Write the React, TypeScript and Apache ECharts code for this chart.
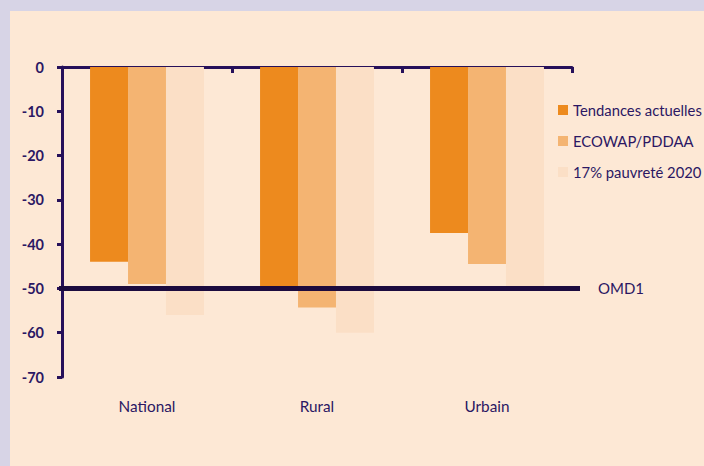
import React, { useEffect, useRef } from "react";
import * as echarts from "echarts";

const categories = ["National", "Rural", "Urbain"];
const seriesNames = ["Tendances actuelles", "ECOWAP/PDDAA", "17% pauvreté 2020"];
const tendances = [-44, -49.6, -37.5];
const ecowap = [-49, -54.3, -44.5];
const pauvrete = [-56, -60, -50.5];
const omdValue = -50;
const omdLabel = "OMD1";
const yMin = -70;
const yMax = 0;
const yInterval = 10;

const barColors = ["#ED8A1E", "#F4B472", "#FBDFC6"];
const axisColor = "#26105A";
const textColor = "#2B1763";
const font = "Lato, 'DejaVu Sans', sans-serif";

export default function App() {
  const ref = useRef<HTMLDivElement>(null);
  useEffect(() => {
    if (!ref.current) return;
    const chart = echarts.init(ref.current, undefined, { renderer: "svg" });
    const values = [tendances, ecowap, pauvrete];
    const bars = values.map((v, i) => ({
      name: seriesNames[i],
      type: "bar",
      xAxisIndex: 0,
      yAxisIndex: 0,
      data: v,
      barGap: "0%",
      barCategoryGap: "33%",
      itemStyle: { color: barColors[i] },
      silent: true,
    }));
    chart.setOption({
      animation: false,
      backgroundColor: "transparent",
      textStyle: { fontFamily: font },
      grid: { left: 62, top: 67, right: 132, bottom: 89, containLabel: false },
      legend: {
        data: seriesNames,
        orient: "vertical",
        left: 553,
        top: 97,
        itemWidth: 10,
        itemHeight: 10,
        itemGap: 15,
        icon: "rect",
        textStyle: { color: textColor, fontSize: 14.8, fontFamily: font, lineHeight: 16 },
        selectedMode: false,
      },
      xAxis: [
        {
          type: "category",
          data: categories,
          position: "top",
          axisLine: { show: true, onZero: false, lineStyle: { color: axisColor, width: 3 } },
          axisTick: { show: true, inside: true, length: 6, lineStyle: { color: axisColor, width: 3 } },
          axisLabel: { show: false },
          splitLine: { show: false },
        },
        {
          type: "category",
          data: categories,
          position: "bottom",
          axisLine: { show: false },
          axisTick: { show: false },
          axisLabel: { show: true, margin: 21, color: textColor, fontSize: 15.3, fontFamily: font },
          splitLine: { show: false },
        },
      ],
      yAxis: {
        type: "value",
        min: yMin,
        max: yMax,
        interval: yInterval,
        axisLine: { show: true, lineStyle: { color: axisColor, width: 3 } },
        axisTick: { show: true, length: 5, lineStyle: { color: axisColor, width: 3 } },
        axisLabel: { color: textColor, fontSize: 14.5, fontWeight: "bold", margin: 18, fontFamily: font },
        splitLine: { show: false },
      },
      series: [
        ...bars,
        {
          type: "custom",
          name: omdLabel,
          xAxisIndex: 0,
          yAxisIndex: 0,
          z: 5,
          silent: true,
          data: [[0, omdValue]],
          renderItem: (params: any, api: any) => {
            const y = api.coord([0, api.value(1)])[1];
            const cs = params.coordSys;
            const x0 = cs.x - 3;
            const x1 = cs.x + cs.width + 8;
            return {
              type: "group",
              children: [
                {
                  type: "line",
                  shape: { x1: x0, y1: y, x2: x1, y2: y },
                  style: { stroke: "#1C0B3E", lineWidth: 5 },
                },
                {
                  type: "text",
                  x: x1 + 18,
                  y: y,
                  style: {
                    text: omdLabel,
                    fill: textColor,
                    font: `15px ${font}`,
                    verticalAlign: "middle",
                    align: "left",
                  },
                },
              ],
            };
          },
        },
      ],
    });
    return () => chart.dispose();
  }, []);

  return (
    <div style={{ position: "fixed", left: 0, top: 0, width: 704, height: 466, background: "#D7D4E6" }}>
      <div style={{ position: "absolute", left: 10, top: 11, right: 0, bottom: 0, background: "#FDE8D5" }} />
      <div ref={ref} style={{ position: "absolute", left: 0, top: 0, width: 704, height: 466 }} />
    </div>
  );
}
